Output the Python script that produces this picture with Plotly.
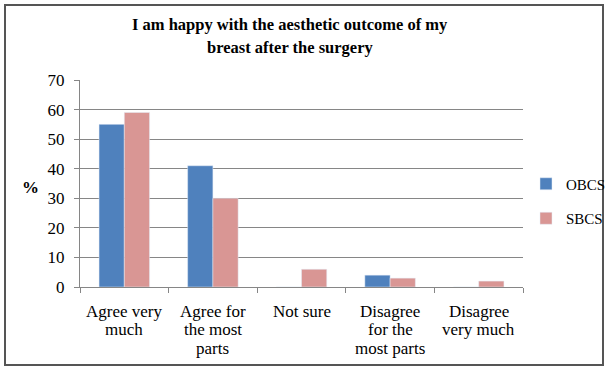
import plotly.graph_objects as go

categories = ["Agree very much", "Agree for the most parts", "Not sure",
              "Disagree for the most parts", "Disagree very much"]
category_lines = [["Agree very", "much"], ["Agree for", "the most", "parts"], ["Not sure"],
                  ["Disagree", "for the", "most parts"], ["Disagree", "very much"]]
obcs = [55, 41, 0, 4, 0]
sbcs = [59, 30, 6, 3, 2]
y_ticks = [0, 10, 20, 30, 40, 50, 60, 70]
title_lines = ["I am happy with the aesthetic outcome of my", "breast after the surgery"]

W, H = 607, 370
L, R, T, B = 80, 84, 80, 83
pw, ph = W - L - R, H - T - B


def px_x(px):
    return (px - L) / pw


def px_y(py):
    return (H - B - py) / ph


FONT = "Liberation Serif, Times New Roman, serif"

fig = go.Figure()
fig.add_trace(go.Bar(x=categories, y=obcs, name="OBCS", marker_color="#4F81BD",
                     legendgroup="a"))
fig.add_trace(go.Bar(x=categories, y=sbcs, name="SBCS", marker_color="#D99694",
                     legendgroup="b"))

fig.update_layout(
    width=W, height=H,
    margin=dict(l=L, r=R, t=T, b=B, autoexpand=False),
    paper_bgcolor="white", plot_bgcolor="white",
    barmode="group", bargap=0.43, bargroupgap=0,
    font=dict(family=FONT, size=17, color="black"),
    legend=dict(x=px_x(526), y=px_y(201), xanchor="left", yanchor="middle",
                traceorder="grouped", tracegroupgap=12, itemwidth=30,
                bgcolor="rgba(0,0,0,0)",
                font=dict(family=FONT, size=15)),
    showlegend=True,
)
fig.update_xaxes(type="category", tickson="boundaries", ticks="outside", ticklen=5,
                 tickcolor="#868686", showline=True, linecolor="#868686",
                 linewidth=1, showticklabels=False)
fig.update_yaxes(range=[0, 70], tickvals=y_ticks, ticks="outside", ticklen=5,
                 tickcolor="#868686", showline=True, linecolor="#868686",
                 showgrid=True, gridcolor="#868686", gridwidth=1,
                 zeroline=False, tickfont=dict(family=FONT, size=17),
                 ticklabelstandoff=6)

# title, one annotation per line
for i, line in enumerate(title_lines):
    fig.add_annotation(text="<b>" + line + "</b>", xref="paper", yref="paper",
                       x=px_x(290), y=px_y(25 + 23 * i), xanchor="center",
                       yanchor="middle", showarrow=False,
                       font=dict(family=FONT, size=16.5, color="black"))

# category labels, one annotation per line
for cat, lines in zip(categories, category_lines):
    for j, line in enumerate(lines):
        fig.add_annotation(text=line, x=cat, xref="x", yref="paper",
                           y=px_y(311 + 18.7 * j), xanchor="center",
                           yanchor="middle", showarrow=False,
                           font=dict(family=FONT, size=17, color="black"))

fig.add_annotation(text="<b>%</b>", xref="paper", yref="paper",
                   x=px_x(30), y=px_y(187), xanchor="center", yanchor="middle",
                   showarrow=False, font=dict(family=FONT, size=17))
fig.add_shape(type="rect", xref="paper", yref="paper",
              x0=px_x(5), x1=px_x(603), y0=px_y(365), y1=px_y(5),
              line=dict(color="#555555", width=2))

fig.write_html("out.html")
